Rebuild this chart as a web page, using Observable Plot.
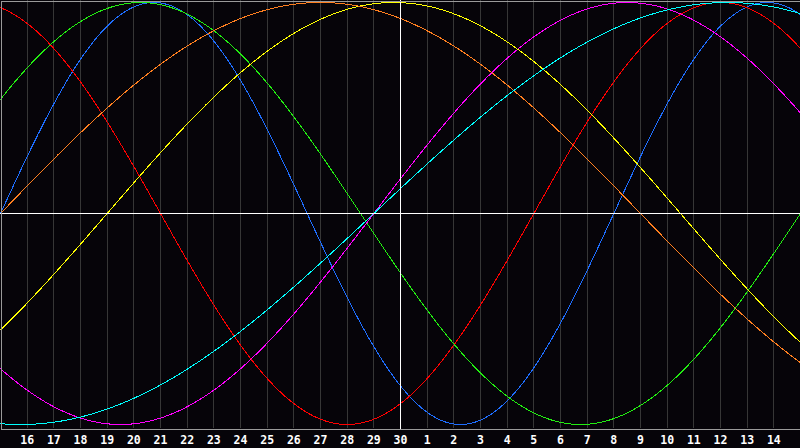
<!DOCTYPE html>
<html>
<head>
<meta charset="utf-8">
<script src="https://cdn.jsdelivr.net/npm/d3@7"></script>
<script src="https://cdn.jsdelivr.net/npm/@observablehq/plot@0.6"></script>
<style>
  html, body { margin: 0; padding: 0; background: #060409; }
  #chart { width: 800px; height: 448px; }
</style>
</head>
<body>
<div id="chart"></div>
<script>
// Day labels along the bottom (gridline positions 1..29 of a 30-day window)
const dayLabels = ["16","17","18","19","20","21","22","23","24","25","26","27","28","29","30",
                   "1","2","3","4","5","6","7","8","9","10","11","12","13","14"];
// Biorhythm cycles
const cycleNames  = ["Physical","Emotional","Intellectual","Intuitive","Aesthetic","Awareness","Spiritual"];
const cyclePeriods = [23, 28, 33, 38, 43, 48, 53];
// days into each cycle at the left edge of the chart
const cycleStartPhase = [0, 8, 3, 24, 39, 0, 39];
const cycleColors = ["#1e6eff","#ff0000","#22ee11","#ff00ff","#ffff00","#ff7f1f","#00ffff"];
const spanDays = 30;
const centerDay = 15;

const gridDays = dayLabels.map((_, i) => i + 1);

const points = [];
cycleNames.forEach((name, k) => {
  const P = cyclePeriods[k], p0 = cycleStartPhase[k];
  for (let t = 0; t <= spanDays + 1e-9; t += 0.05) {
    points.push({name, t, v: Math.sin(2 * Math.PI * (p0 + t) / P)});
  }
});

const chart = Plot.plot({
  width: 800,
  height: 448,
  marginTop: 0,
  marginLeft: 0,
  marginRight: 0,
  marginBottom: 19,
  style: {background: "#060409", color: "white", fontFamily: "DejaVu Sans Mono", fontSize: "11px", fontWeight: "bold"},
  x: {domain: [0, spanDays], range: [0, 800], axis: null},
  y: {domain: [-1, 1], range: [424, 2], axis: null},
  color: {domain: cycleNames, range: cycleColors},
  marks: [
    Plot.ruleX(gridDays, {x: d => d, y1: -1.02, y2: 1.02, stroke: "#363636", strokeWidth: 1, shapeRendering: "crispEdges"}),
    Plot.line(points, {x: "t", y: "v", z: "name", stroke: "name", strokeWidth: 1, shapeRendering: "crispEdges"}),
    Plot.ruleX([centerDay], {stroke: "white", strokeWidth: 1, shapeRendering: "crispEdges"}),
    Plot.ruleY([0], {stroke: "white", strokeWidth: 1, shapeRendering: "crispEdges"}),
    Plot.frame({stroke: "#9a9a9a", inset: 0.5, shapeRendering: "crispEdges"}),
    Plot.axisX(gridDays, {
      tickSize: 0, tickPadding: 6, label: null,
      tickFormat: d => dayLabels[d - 1],
      fill: "white", fontFamily: "DejaVu Sans Mono", fontSize: 11.5, fontWeight: "bold"
    })
  ]
});
document.getElementById("chart").appendChild(chart);
</script>
</body>
</html>
